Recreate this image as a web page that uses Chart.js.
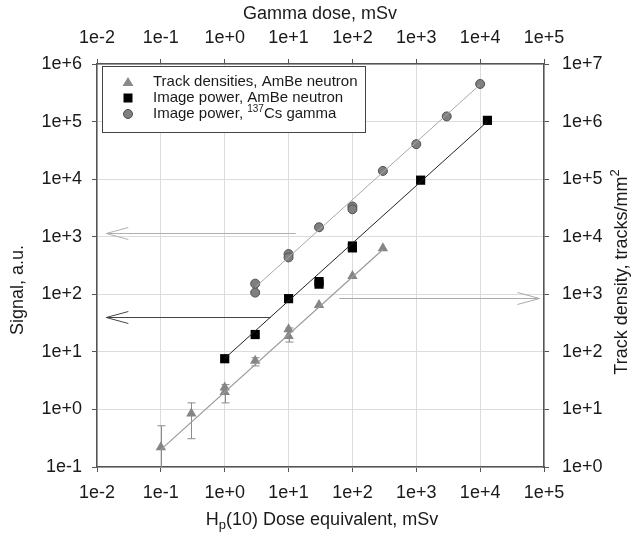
<!DOCTYPE html>
<html>
<head>
<meta charset="utf-8">
<script src="https://cdn.jsdelivr.net/npm/chart.js@4.4.0/dist/chart.umd.min.js"></script>
<style>
html, body { margin: 0; padding: 0; background: #fff; }
</style>
</head>
<body>
<canvas id="doseChart" width="639" height="539"></canvas>
<script>
// decade ticks
const doseTicks = [1e-2, 1e-1, 1e0, 1e1, 1e2, 1e3, 1e4, 1e5];
const signalTicks = [1e-1, 1e0, 1e1, 1e2, 1e3, 1e4, 1e5, 1e6];
const trackTicks = [1e0, 1e1, 1e2, 1e3, 1e4, 1e5, 1e6, 1e7];

// Track densities, AmBe neutron (signal axis = track density / 10)
const trackDose = [0.1, 0.3, 1, 1, 3, 10, 10, 30, 100, 300];
const trackSignal = [0.22, 0.85, 2.4, 2.0, 7, 24.6, 18.8, 65, 208, 630];
const trackErrDose = [0.1, 0.3, 1, 3, 10];
const trackErrLow = [0.09, 0.31, 1.3, 5.7, 14.8];
const trackErrHigh = [0.52, 1.3, 2.7, 7.9, 26];
const trackFitDose = [0.1, 300];
const trackFitSignal = [0.2, 600];

// Image power, AmBe neutron
const ambeDose = [1, 3, 10, 30, 30, 100, 100, 1170, 13000];
const ambeSignal = [7.6, 20, 84, 166, 150, 690, 640, 9600, 105000];
const ambeFitDose = [1, 13000];
const ambeFitSignal = [7.7, 100000];

// Image power, 137Cs gamma (top axis)
const gammaDose = [3, 3, 10, 10, 30, 100, 100, 300, 1000, 3000, 10000];
const gammaSignal = [153, 107, 500, 437, 1460, 3350, 3000, 13900, 40500, 123000, 450000];
const gammaFitDose = [3, 10000];
const gammaFitSignal = [132, 440000];

// axis arrows
const arrowStartDose = [13, 5.2, 62];
const arrowEndDose = [0.014, 0.014, 85000];
const arrowSignal = [1150, 41, 85];
const arrowColors = ['#b0b0b0', '#444444', '#aaaaaa'];

const FONT = '"Liberation Sans", Arial, sans-serif';
const TEXT = '#1a1a1a';

function pts(xs, ys) {
    return xs.map((v, i) => ({ x: v, y: ys[i] }));
}

function expLabel(v) {
    const n = Math.round(Math.log10(v));
    return '1e' + (n >= 0 ? '+' : '') + n;
}

function logAxis(position, min, max, tickList, size, grid) {
    return {
        type: 'logarithmic',
        position: position,
        min: min,
        max: max,
        afterBuildTicks: (scale) => {
            scale.ticks = tickList.map(v => ({ value: v }));
        },
        afterFit: (scale) => {
            if (position === 'left' || position === 'right') scale.width = size;
            else scale.height = size;
        },
        ticks: {
            autoSkip: false,
            maxRotation: 0,
            color: TEXT,
            padding: position === 'left' ? 10 : (position === 'right' ? 13 : 10),
            font: { family: FONT, size: 18 },
            callback: (v) => expLabel(v)
        },
        grid: {
            drawOnChartArea: grid,
            color: '#dcdcdc',
            lineWidth: 1,
            tickColor: '#555',
            tickLength: 5
        },
        border: { color: '#555', width: 1.5 }
    };
}

function richText(ctx, parts, cx, cy) {
    let total = 0;
    parts.forEach(p => {
        ctx.font = p.size + 'px ' + FONT;
        total += ctx.measureText(p.text).width;
    });
    let x = cx - total / 2;
    parts.forEach(p => {
        ctx.font = p.size + 'px ' + FONT;
        ctx.fillText(p.text, x, cy + (p.dy || 0));
        x += ctx.measureText(p.text).width;
    });
}

const overlay = {
    id: 'overlay',
    beforeDatasetsDraw(chart) {
        const { ctx, chartArea: a } = chart;
        const x = chart.scales.x, y = chart.scales.y;
        ctx.save();
        ctx.beginPath();
        ctx.rect(a.left, a.top, a.right - a.left, a.bottom - a.top);
        ctx.clip();

        // arrows
        arrowSignal.forEach((s, i) => {
            const xs = x.getPixelForValue(arrowStartDose[i]);
            const xe = x.getPixelForValue(arrowEndDose[i]);
            const py = Math.round(y.getPixelForValue(s)) + 0.5;
            const dir = xe > xs ? 1 : -1;
            ctx.strokeStyle = arrowColors[i];
            ctx.lineWidth = 1;
            ctx.beginPath();
            ctx.moveTo(xs, py);
            ctx.lineTo(xe, py);
            ctx.moveTo(xe - dir * 22, py - 6);
            ctx.lineTo(xe, py);
            ctx.lineTo(xe - dir * 22, py + 6);
            ctx.stroke();
        });

        // error bars
        ctx.strokeStyle = '#8c8c8c';
        ctx.lineWidth = 1;
        trackErrDose.forEach((d, i) => {
            const px = Math.round(x.getPixelForValue(d)) + 0.5;
            const lo = y.getPixelForValue(trackErrLow[i]);
            const hi = y.getPixelForValue(trackErrHigh[i]);
            ctx.beginPath();
            ctx.moveTo(px, lo);
            ctx.lineTo(px, hi);
            ctx.moveTo(px - 4, lo);
            ctx.lineTo(px + 4, lo);
            ctx.moveTo(px - 4, hi);
            ctx.lineTo(px + 4, hi);
            ctx.stroke();
        });
        ctx.restore();
    },
    afterDraw(chart) {
        const ctx = chart.ctx;
        ctx.save();

        // legend
        ctx.fillStyle = '#fff';
        ctx.fillRect(102, 66, 264, 67);
        ctx.strokeStyle = '#444';
        ctx.lineWidth = 1;
        ctx.strokeRect(102.5, 66.5, 263, 66);

        const mx = 128;
        const rows = [82, 98, 114];
        ctx.fillStyle = '#8a8a8a';
        ctx.beginPath();
        ctx.moveTo(mx, rows[0] - 5);
        ctx.lineTo(mx + 5.5, rows[0] + 4);
        ctx.lineTo(mx - 5.5, rows[0] + 4);
        ctx.closePath();
        ctx.fill();
        ctx.fillStyle = '#000';
        ctx.fillRect(mx - 4.5, rows[1] - 4.5, 9, 9);
        ctx.fillStyle = '#7f7f7f';
        ctx.strokeStyle = '#505050';
        ctx.beginPath();
        ctx.arc(mx, rows[2], 4.5, 0, Math.PI * 2);
        ctx.fill();
        ctx.stroke();

        ctx.fillStyle = TEXT;
        ctx.textBaseline = 'middle';
        ctx.textAlign = 'left';
        ctx.font = '15px ' + FONT;
        ctx.fillText('Track densities, AmBe neutron', 153, rows[0]);
        ctx.fillText('Image power, AmBe neutron', 153, rows[1]);
        let tx = 153;
        const lead = 'Image power, ';
        ctx.fillText(lead, tx, rows[2]);
        tx += ctx.measureText(lead).width;
        ctx.font = '10px ' + FONT;
        ctx.fillText('137', tx, rows[2] - 5);
        tx += ctx.measureText('137').width;
        ctx.font = '15px ' + FONT;
        ctx.fillText('Cs gamma', tx, rows[2]);

        // axis titles
        richText(ctx, [{ text: 'Gamma dose, mSv', size: 18 }], 320, 14);
        richText(ctx, [
            { text: 'H', size: 18 },
            { text: 'p', size: 13, dy: 5 },
            { text: '(10) Dose equivalent, mSv', size: 18 }
        ], 322, 520);

        ctx.save();
        ctx.translate(18, 290);
        ctx.rotate(-Math.PI / 2);
        richText(ctx, [{ text: 'Signal, a.u.', size: 18 }], 0, 0);
        ctx.restore();

        ctx.save();
        ctx.translate(622, 272);
        ctx.rotate(-Math.PI / 2);
        richText(ctx, [
            { text: 'Track density, tracks/mm', size: 18 },
            { text: '2', size: 13, dy: -7 }
        ], 0, 0);
        ctx.restore();

        ctx.restore();
    }
};

new Chart(document.getElementById('doseChart'), {
    type: 'scatter',
    plugins: [overlay],
    data: {
        datasets: [
            {
                label: 'Track fit',
                data: pts(trackFitDose, trackFitSignal),
                showLine: true,
                borderColor: '#9a9a9a',
                borderWidth: 1.2,
                pointRadius: 0
            },
            {
                label: 'AmBe fit',
                data: pts(ambeFitDose, ambeFitSignal),
                showLine: true,
                borderColor: '#222',
                borderWidth: 1,
                pointRadius: 0
            },
            {
                label: 'Gamma fit',
                xAxisID: 'x2',
                data: pts(gammaFitDose, gammaFitSignal),
                showLine: true,
                borderColor: '#a8a8a8',
                borderWidth: 1,
                pointRadius: 0
            },
            {
                label: 'Track densities, AmBe neutron',
                data: pts(trackDose, trackSignal),
                pointStyle: 'triangle',
                pointRadius: 6,
                backgroundColor: '#858585',
                borderColor: '#858585',
                borderWidth: 0
            },
            {
                label: 'Image power, AmBe neutron',
                data: pts(ambeDose, ambeSignal),
                pointStyle: 'rect',
                pointRadius: 6.5,
                backgroundColor: '#000',
                borderColor: '#000',
                borderWidth: 0
            },
            {
                label: 'Image power, 137Cs gamma',
                xAxisID: 'x2',
                data: pts(gammaDose, gammaSignal),
                pointStyle: 'circle',
                pointRadius: 4.5,
                backgroundColor: '#7f7f7f',
                borderColor: '#505050',
                borderWidth: 1
            }
        ]
    },
    options: {
        responsive: false,
        animation: false,
        layout: { padding: 0 },
        plugins: {
            legend: { display: false },
            tooltip: { enabled: false }
        },
        scales: {
            x: logAxis('bottom', 1e-2, 1e5, doseTicks, 72, true),
            x2: logAxis('top', 1e-2, 1e5, doseTicks, 64, false),
            y: logAxis('left', 1e-1, 1e6, signalTicks, 97, true),
            y2: logAxis('right', 1e0, 1e7, trackTicks, 95, false)
        }
    }
});
</script>
</body>
</html>
